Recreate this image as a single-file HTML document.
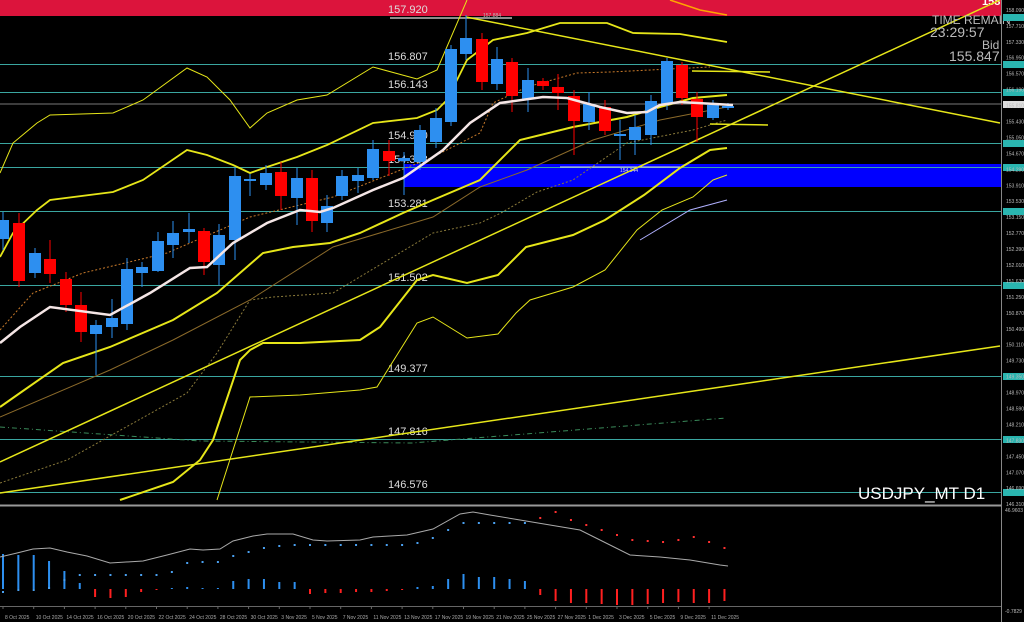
<!DOCTYPE html>
<html><head><meta charset="utf-8"><style>
html,body{margin:0;padding:0;background:#000;overflow:hidden}
svg{display:block;font-family:"Liberation Sans",sans-serif}
</style></head><body>
<svg id="s" width="1024" height="622" viewBox="0 0 1024 622" xmlns="http://www.w3.org/2000/svg">
<rect width="1024" height="622" fill="#000"/>
<rect x="0" y="0" width="1001" height="16" fill="#dc143c"/>
<polyline points="670,0 700,10 727,15" fill="none" stroke="#ffa500" stroke-width="1.5"/>
<text x="982" y="5" fill="#fff" font-size="11" font-weight="bold">158</text>
<rect x="404" y="164" width="597" height="23" fill="#0000ff"/>
<g id="hl" stroke="#3aa6a0" stroke-width="1"></g>
<line x1="0" y1="104" x2="1001" y2="104" stroke="#777" stroke-width="1"/>
<line x1="390" y1="18" x2="512" y2="18" stroke="#bbb" stroke-width="1.5"/>
<line x1="560" y1="167" x2="680" y2="167" stroke="#ddd" stroke-width="1"/>
<g id="lbl" fill="#ddd" font-size="11"></g>
<text x="483" y="17" fill="#bbb" font-size="5">157.884</text>
<text x="620" y="172" fill="#ddd" font-size="5">154.344</text>
<polyline points="0,427 200,441 412,443 726,418" fill="none" stroke="#3a8a5a" stroke-width="1" stroke-dasharray="5,3,1,3"/>
<polyline points="0,330 33,293 83,273 167,253 250,217 333,197 433,157 480,133 493,103 527,87 577,73 610,72 710,67" fill="none" stroke="#c87a2a" stroke-width="1" stroke-dasharray="2,2"/>
<polyline points="0,483 67,460 187,393 217,353 250,300 273,297 333,293 433,233 480,223 501,213 537,192 573,180 627,143 693,130 727,120" fill="none" stroke="#8a7a3a" stroke-width="1" stroke-dasharray="2,2"/>
<polyline points="0,417 110,370 173,340 250,300 333,247 433,217 480,187 527,170 593,140 660,120 727,107" fill="none" stroke="#8b6a2a" stroke-width="1"/>
<g fill="none" stroke="#e6e619">
<polyline stroke-width="1" points="0,173 13,143 37,123 50,115 113,113 143,100 187,68 207,77 230,100 250,128 267,113 297,100 327,95 373,67 417,79 437,70 467,0"/>
<polyline stroke-width="1.8" points="0,257 13,233 37,210 50,200 113,192 143,180 187,150 207,155 233,165 250,173 267,167 297,157 327,145 373,123 417,118 437,110 447,100 467,60 480,50 493,40 527,33 560,23 607,23 633,33 680,34 727,42"/>
<polyline stroke-width="2" points="0,407 20,393 63,363 110,347 173,320 217,293 263,253 293,247 330,243 360,233 403,213 433,200 480,180 520,140 573,127 627,117 660,107 693,98 727,95"/>
<polyline stroke-width="2" points="120,500 173,482 200,460 213,440 240,360 250,350 263,343 300,343 360,340 380,327 417,280 433,275 467,283 498,275 526,247 573,235 605,220 644,195 680,168 710,150 727,148"/>
<polyline stroke-width="1" points="217,500 250,397 300,395 360,390 377,387 417,323 433,317 467,338 498,334 516,313 530,300 573,287 605,270 637,230 662,210 693,197 713,180 727,175"/>
<line x1="0" y1="462" x2="1000" y2="0" stroke-width="1.5"/>
<line x1="0" y1="493" x2="1000" y2="346" stroke-width="1.5"/>
<line x1="466" y1="17" x2="1000" y2="123" stroke-width="1.5"/>
<line x1="692" y1="71" x2="770" y2="72" stroke-width="1.5"/>
<line x1="710" y1="124" x2="768" y2="125" stroke-width="1.5"/>
</g>
<polyline points="640,240 690,210 727,200" fill="none" stroke="#b0b0ff" stroke-width="1"/>
<g id="cd"></g>
<polyline points="0,343 20,327 50,307 110,315 150,293 190,268 207,267 233,243 267,223 300,210 320,212 333,208 373,190 403,178 443,150 470,123 500,103 543,97 567,98 600,107 627,113 647,112 660,105 680,102 733,105" fill="none" stroke="#f5e6e6" stroke-width="2.5"/>
<text x="932" y="24" fill="#bbb" font-size="12">TIME REMAIN</text>
<text x="930" y="37" fill="#bbb" font-size="14">23:29:57</text>
<text x="982" y="49" fill="#bbb" font-size="12">Bid</text>
<text x="949" y="61" fill="#bbb" font-size="14">155.847</text>
<text x="858" y="499" fill="#fff" font-size="17">USDJPY_MT D1</text>
<line x1="0" y1="505.5" x2="1001" y2="505.5" stroke="#999" stroke-width="2"/>
<line x1="1001.5" y1="0" x2="1001.5" y2="622" stroke="#888" stroke-width="1"/>
<g id="ax" fill="#bbb" font-size="5"></g>
<g id="osc"></g>
<polyline points="0,557 17,553 33,549 50,548 67,552 87,556 110,563 143,561 167,555 190,549 203,550 220,549 233,541 253,536 267,534 293,534 313,540 327,541 360,540 373,537 407,535 433,529 460,514 473,512 490,515 520,520 550,525 580,530 600,540 630,555 660,557 690,560 720,565 728,566" fill="none" stroke="#aaa" stroke-width="1"/>
<line x1="0" y1="606.5" x2="1001" y2="606.5" stroke="#666" stroke-width="1"/>
<g id="dt" fill="#aaa" font-size="5"></g>
<text x="1005" y="512" fill="#bbb" font-size="5">46.9603</text>
<text x="1005" y="613" fill="#bbb" font-size="5">-0.7829</text>
</svg>
<script>
var NS="http://www.w3.org/2000/svg";
function el(t,a,p,txt){var e=document.createElementNS(NS,t);for(var k in a)e.setAttribute(k,a[k]);if(txt)e.textContent=txt;document.getElementById(p).appendChild(e);return e;}
function Y(p){return 17+(157.92-p)*41.96;}
var lines=[[157.920,17],[156.807,64],[156.143,92],[154.900,143],[154.338,167],[153.281,211],[151.502,285],[149.377,376],[147.816,439],[146.576,492]];
lines.forEach(function(l){if(l[0]!=157.92)el('line',{x1:0,y1:l[1]+.5,x2:1001,y2:l[1]+.5},'hl');
el('text',{x:388,y:l[1]-4},'lbl',l[0].toFixed(3));
el('rect',{x:1003,y:l[1]-3,width:21,height:7,fill:'#2ab5b0'},'ax');});
el('rect',{x:1003,y:101,width:21,height:7,fill:'#ddd'},'ax');
for(var p=158.09;p>146.2;p-=0.38){var y=Y(p);el('text',{x:1006,y:y+2},'ax',p.toFixed(3));}
var C=[[3,220,239,212,250,'b'],[19,223,281,213,287,'r'],[35,253,273,248,278,'b'],[50,259,274,240,283,'r'],[66,279,305,272,312,'r'],[81,305,332,292,342,'r'],[96,325,334,320,375,'b'],[112,318,327,299,338,'b'],[127,269,324,258,330,'b'],[142,267,273,262,287,'b'],[158,241,271,232,272,'b'],[173,233,245,221,258,'b'],[189,229,232,213,243,'b'],[204,231,262,228,275,'r'],[219,235,265,224,285,'b'],[235,176,240,167,260,'b'],[250,179,181,174,196,'b'],[266,173,185,165,190,'b'],[281,172,196,162,210,'r'],[297,178,198,168,225,'b'],[312,178,221,170,232,'r'],[327,206,223,195,232,'b'],[342,176,196,170,200,'b'],[358,175,181,168,193,'b'],[373,149,178,140,180,'b'],[389,151,161,140,176,'r'],[404,158,161,152,195,'b'],[420,130,162,125,170,'b'],[436,118,142,108,148,'b'],[451,49,122,45,126,'b'],[466,38,54,15,60,'b'],[482,39,82,33,90,'r'],[497,59,84,47,90,'b'],[512,62,96,58,112,'r'],[528,80,99,68,112,'b'],[543,81,86,78,90,'r'],[558,87,93,74,110,'r'],[574,96,121,90,155,'r'],[589,104,122,92,130,'b'],[605,107,131,100,135,'r'],[620,134,136,120,160,'b'],[635,127,140,115,155,'b'],[651,101,135,95,145,'b'],[667,61,104,58,110,'b'],[682,65,98,62,105,'r'],[697,99,117,92,142,'r'],[713,105,118,100,120,'b'],[728,106,108,103,110,'b']];
C.forEach(function(c){var col=c[5]=='b'?'#2d8ff0':'#ff0000';
el('line',{x1:c[0],y1:c[3],x2:c[0],y2:c[4],stroke:col,'stroke-width':1},'cd');
el('rect',{x:c[0]-6,y:c[1],width:12,height:Math.max(2,c[2]-c[1]),fill:col},'cd');});
var H=[35,34,34,28,18,6,-8,-9,-8,-3,-1,1,2,1,1,8,10,10,7,7,-5,-4,-4,-3,-3,-2,-1,2,3,10,15,12,12,10,8,-6,-12,-14,-14,-15,-16,-16,-15,-14,-13,-14,-14,-12];
var D=[592,590,590,588,580,575,575,575,575,575,575,572,563,562,562,556,552,548,546,545,545,545,545,545,545,545,545,543,538,530,523,523,523,523,523,518,512,520,525,530,535,540,541,542,540,537,542,548];
for(var i=0;i<48;i++){var x=3+i*15.35,h=H[i],col=h>=0?'#2d8ff0':'#ff2020';
var y1=h>=0?589-h:589;
el('rect',{x:x-1,y:y1,width:2,height:Math.abs(h)||1,fill:col},'osc');
el('rect',{x:x-1,y:D[i]-1,width:2,height:2,fill:i<35?'#4aa0f0':'#ff3030'},'osc');}
var dts=["8 Oct 2025","10 Oct 2025","14 Oct 2025","16 Oct 2025","20 Oct 2025","22 Oct 2025","24 Oct 2025","28 Oct 2025","30 Oct 2025","3 Nov 2025","5 Nov 2025","7 Nov 2025","11 Nov 2025","13 Nov 2025","17 Nov 2025","19 Nov 2025","21 Nov 2025","25 Nov 2025","27 Nov 2025","1 Dec 2025","3 Dec 2025","5 Dec 2025","9 Dec 2025","11 Dec 2025"];
dts.forEach(function(d,i){var x=3+i*30.7;el('line',{x1:x,y1:606,x2:x,y2:609,stroke:'#666'},'dt');el('text',{x:x+2,y:619},'dt',d);});
</script>
</body></html>
